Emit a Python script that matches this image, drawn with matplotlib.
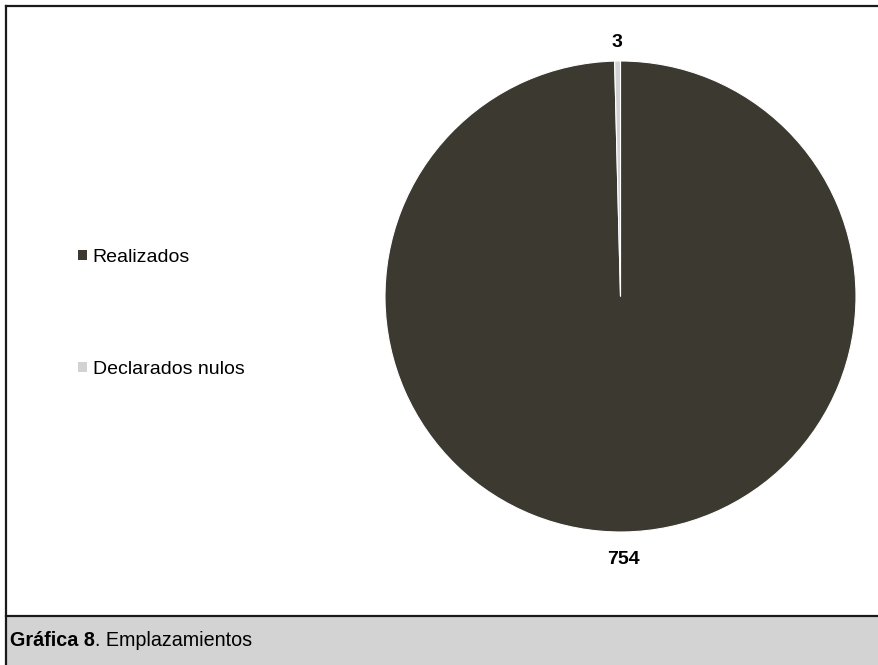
import matplotlib
matplotlib.use("Agg")
import matplotlib.pyplot as plt
from matplotlib.patches import Rectangle, Patch
from matplotlib.lines import Line2D
import numpy as np

categories = ["Realizados", "Declarados nulos"]
values = [754, 3]
colors = ["#3c3931", "#d2d2d2"]
caption_bold = "Gráfica 8"
caption_rest = ". Emplazamientos"

W, H = 879, 665
fig = plt.figure(figsize=(W / 100, H / 100), dpi=100)
fig.patch.set_facecolor("white")
font = ["Liberation Sans", "DejaVu Sans"]

# overlay for frame and caption
ov = fig.add_axes([0, 0, 1, 1])
ov.set_xlim(0, W)
ov.set_ylim(H, 0)
ov.axis("off")
ov.add_patch(Rectangle((6, 616), W, H - 616, facecolor="#d3d3d3", edgecolor="none", zorder=1))
ov.add_line(Line2D([6, W], [6, 6], color="#1a1a1a", lw=1.6, zorder=2))
ov.add_line(Line2D([6, 6], [6, H], color="#1a1a1a", lw=1.6, zorder=2))
ov.add_line(Line2D([6, W], [616, 616], color="#1a1a1a", lw=1.6, zorder=2))
t1 = ov.text(10, 641, caption_bold, fontsize=14.2, fontweight="bold", family=font,
             va="center", ha="left", zorder=3)
fig.canvas.draw()
bb = t1.get_window_extent()
x_end = bb.x1
ov.text(x_end, H - 641, caption_rest, fontsize=14.2, family=font,
        va="center", ha="left", zorder=3, transform=None)

# pie axes
cx, cy, R = 620.5, 296.5, 235.5
half = 300
ax = fig.add_axes([(cx - half) / W, (H - cy - half) / H, 2 * half / W, 2 * half / H])
wedges, _ = ax.pie(values, colors=colors, startangle=90, counterclock=False,
                   wedgeprops=dict(edgecolor="white", linewidth=0.8))
lim = half / R
ax.set_xlim(-lim, lim)
ax.set_ylim(-lim, lim)
ax.axis("off")

dists = [1.115, 1.08]
for w, v, d in zip(wedges, values, dists):
    ang = np.deg2rad((w.theta1 + w.theta2) / 2)
    ax.text(d * np.cos(ang), d * np.sin(ang), str(v), ha="center", va="center",
            fontsize=14, fontweight="bold", family=font)

handles = [Patch(facecolor=c, edgecolor="none") for c in colors]
fig.legend(handles, categories, loc="center left", bbox_to_anchor=(78 / W, (H - 313.5) / H),
           frameon=False, prop=dict(family=font, size=14),
           handlelength=0.45, handleheight=0.45, handletextpad=0.3, labelspacing=4.9,
           borderaxespad=0, borderpad=0)

fig.savefig("out.png", dpi=100)
